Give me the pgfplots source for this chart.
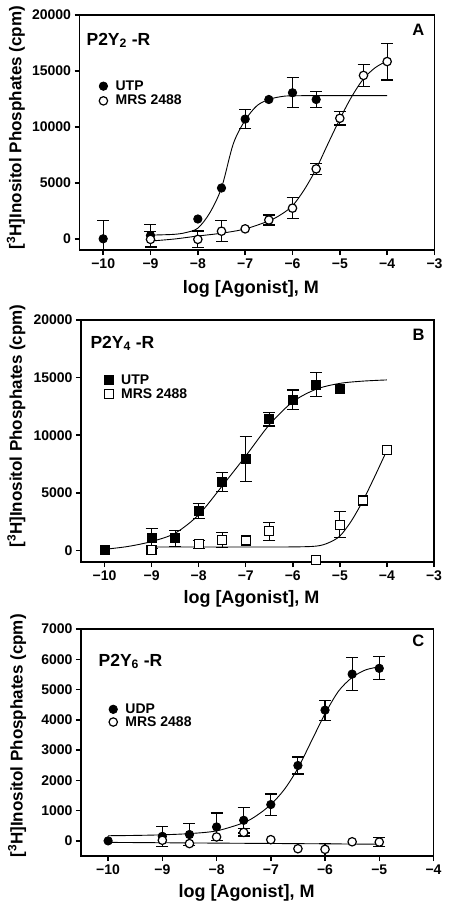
\documentclass[border=0pt]{standalone}
\usepackage{fontspec}
\setmainfont{Liberation Sans}
\usepackage{pgfplots}
\pgfplotsset{compat=1.18}

\pgfplotsset{
  panel/.style={
    scale only axis,
    anchor=north west,
    axis line style={line width=1.7pt},
    every tick/.style={line width=1.5pt, black},
    major tick length=5pt,
    tick align=outside,
    tick pos=left,
    xmin=-10.5,
    scaled y ticks=false,
    tick label style={font=\bfseries\fontsize{14}{16}\selectfont},
    /pgf/number format/assume math mode=true,
    /pgf/number format/1000 sep={},
    ylabel={[\textsuperscript{3}H]Inositol Phosphates (cpm)},
    xlabel={log [Agonist], M},
    y label style={font=\bfseries\fontsize{17}{19}\selectfont},
    x label style={font=\bfseries\fontsize{18}{20}\selectfont},
    legend style={draw=none, fill=none, font=\bfseries\fontsize{14}{16}\selectfont,
      anchor=north west, inner sep=0pt, row sep=0.5pt, column sep=6pt,
      nodes={inner ysep=1pt}},
    legend cell align=left,
    legend image code/.code={\draw[#1] plot coordinates {(0.15cm,0cm)};},
  },
  curve/.style={black, line width=0.9pt, smooth, no marks, forget plot},
  eb/.style={only marks, black, line width=1.1pt,
    error bars/y dir=both, error bars/y explicit,
    error bars/error bar style={line width=1.1pt, black},
    error bars/error mark options={rotate=90, mark size=6pt, line width=1.1pt, black}},
  fcirc/.style={mark=*, mark size=4.2pt, mark options={fill=black, draw=black, line width=0.8pt}},
  ocirc/.style={mark=*, mark size=4.2pt, mark options={fill=white, draw=black, line width=1.2pt}},
  fsq/.style={mark=square*, mark size=4.5pt, mark options={fill=black, draw=black, line width=0.8pt}},
  osq/.style={mark=square*, mark size=4.5pt, mark options={fill=white, draw=black, line width=1.2pt}},
}

\begin{document}
\begin{tikzpicture}
\useasboundingbox (0pt,0pt) rectangle (449pt,-907pt);

% ---------------- Panel A ----------------
\begin{axis}[panel, at={(79.5pt,-15pt)}, width=355pt, height=235pt,
  xmax=-3, ymin=-1000, ymax=20000,
  xtick={-10,-9,-8,-7,-6,-5,-4,-3},
  xticklabels={−10,−9,−8,−7,−6,−5,−4,−3},
  ytick={0,5000,10000,15000,20000},
  y label style={at={(axis description cs:-0.179,0.521)}, anchor=center},
  x label style={at={(axis description cs:0.483,-0.183)}, anchor=base},
  legend style={at={(axis description cs:0.055,0.726)}, row sep=1.5pt},
]
\addplot[curve] coordinates {(-9,330) (-8.5,400) (-8.25,560) (-8,950) (-7.75,2300) (-7.5,4550) (-7.25,8500) (-7,10600) (-6.75,11900) (-6.5,12450) (-6.25,12700) (-6,12780) (-5,12800) (-4,12800)};
\addplot[curve] coordinates {(-9,-200) (-8.5,-20) (-8,250) (-7.5,500) (-7,880) (-6.5,1600) (-6.25,2150) (-6,2950) (-5.75,4400) (-5.5,6250) (-5.25,8500) (-5,10700) (-4.75,12700) (-4.5,14300) (-4.25,15300) (-4,15900)};
\addplot[eb, fcirc] coordinates {(-10,0) +- (0,1600) (-9,300) +- (0,1000) (-7,10700) +- (0,850) (-6,13050) +- (0,1350) (-5.5,12450) +- (0,750)};
\addlegendentry{UTP}
\addplot[only marks, fcirc, forget plot] coordinates {(-8,1770) (-7.5,4540) (-6.5,12450)};
\addplot[eb, ocirc] coordinates {(-9,-50) +- (0,700) (-8,-50) +- (0,750) (-7.5,680) +- (0,940) (-6.5,1680) +- (0,450) (-6,2740) +- (0,950) (-5.5,6250) +- (0,500) (-5,10770) +- (0,600) (-4.5,14600) +- (0,1000) (-4,15840) +- (0,1650)};
\addlegendentry{MRS 2488}
\addplot[only marks, ocirc, forget plot] coordinates {(-7,890)};
\node[anchor=base west, font=\bfseries\fontsize{17.5}{19}\selectfont] at (axis description cs:0.01,0.872) {P2Y\textsubscript{2} -R};
\node[anchor=base east, font=\bfseries\fontsize{16.5}{18}\selectfont] at (axis description cs:0.981,0.911) {A};
\end{axis}

% ---------------- Panel B ----------------
\begin{axis}[panel, at={(81pt,-320pt)}, width=353pt, height=242pt,
  xmax=-3, ymin=-1000, ymax=20000,
  xtick={-10,-9,-8,-7,-6,-5,-4,-3},
  xticklabels={−10,−9,−8,−7,−6,−5,−4,−3},
  ytick={0,5000,10000,15000,20000},
  y label style={at={(axis description cs:-0.183,0.562)}, anchor=center},
  x label style={at={(axis description cs:0.483,-0.17)}, anchor=base},
  legend style={at={(axis description cs:0.065,0.779)}},
]
\addplot[curve] coordinates {(-10,100) (-9.5,350) (-9,780) (-8.5,1500) (-8,3100) (-7.5,5600) (-7,8200) (-6.5,10900) (-6,12900) (-5.5,14000) (-5,14500) (-4.5,14700) (-4,14800)};
\addplot[curve] coordinates {(-9,300) (-8,300) (-7,300) (-6,310) (-5.5,380) (-5.25,650) (-5,1250) (-4.75,2600) (-4.5,4400) (-4.25,6500) (-4,8700)};
\addplot[eb, fsq] coordinates {(-9,1050) +- (0,870) (-8.5,1050) +- (0,700) (-8,3400) +- (0,650) (-7.5,5930) +- (0,800) (-7,7965) +- (0,1950) (-6.5,11400) +- (0,600) (-6,13080) +- (0,850) (-5.5,14390) +- (0,1050)};
\addlegendentry{UTP}
\addplot[only marks, fsq, forget plot] coordinates {(-10,60) (-5,14010)};
\addplot[eb, osq] coordinates {(-8,550) +- (0,350) (-7.5,930) +- (0,650) (-6.5,1660) +- (0,800) (-5,2240) +- (0,1150)};
\addlegendentry{MRS 2488}
\addplot[only marks, osq, forget plot] coordinates {(-9,50) (-7,870) (-5.5,-810) (-4.5,4330) (-4,8690)};
\node[anchor=base west, font=\bfseries\fontsize{17.5}{19}\selectfont] at (axis description cs:0.017,0.884) {P2Y\textsubscript{4} -R};
\node[anchor=base east, font=\bfseries\fontsize{16.5}{18}\selectfont] at (axis description cs:0.983,0.917) {B};
\end{axis}

% ---------------- Panel C ----------------
\begin{axis}[panel, at={(81pt,-629pt)}, width=352.5pt, height=227pt,
  xmax=-4, ymin=-500, ymax=7000,
  xtick={-10,-9,-8,-7,-6,-5,-4},
  xticklabels={−10,−9,−8,−7,−6,−5,−4},
  ytick={0,1000,2000,3000,4000,5000,6000,7000},
  y label style={at={(axis description cs:-0.181,0.529)}, anchor=center},
  x label style={at={(axis description cs:0.47,-0.181)}, anchor=base},
  legend style={at={(axis description cs:0.079,0.676)}, row sep=-0.5pt},
]
\addplot[curve] coordinates {(-10,170) (-9.5,180) (-9,200) (-8.5,240) (-8,330) (-7.5,600) (-7.25,850) (-7,1200) (-6.75,1700) (-6.5,2400) (-6.25,3300) (-6,4200) (-5.75,4950) (-5.5,5400) (-5.25,5650) (-5,5750)};
\addplot[curve] coordinates {(-10,-50) (-9,-62) (-8,-74) (-7,-86) (-6,-98) (-5,-110)};
\addplot[eb, fcirc] coordinates {(-9,150) +- (0,330) (-8.5,210) +- (0,360) (-8,460) +- (0,460) (-7.5,680) +- (0,420) (-7,1200) +- (0,350) (-6.5,2490) +- (0,280) (-6,4320) +- (0,330) (-5.5,5510) +- (0,540) (-5,5700) +- (0,380)};
\addlegendentry{UDP}
\addplot[only marks, fcirc, forget plot] coordinates {(-10,0)};
\addplot[eb, ocirc] coordinates {(-7.5,280) +- (0,120) (-6,-280) +- (0,200) (-5,-40) +- (0,150)};
\addlegendentry{MRS 2488}
\addplot[only marks, ocirc, forget plot] coordinates {(-9,20) (-8.5,-90) (-8,130) (-7,40) (-6.5,-260) (-5.5,-30)};
\node[anchor=base west, font=\bfseries\fontsize{17.5}{19}\selectfont] at (axis description cs:0.04,0.837) {P2Y\textsubscript{6} -R};
\node[anchor=base east, font=\bfseries\fontsize{16.5}{18}\selectfont] at (axis description cs:0.984,0.921) {C};
\end{axis}
\end{tikzpicture}
\end{document}
